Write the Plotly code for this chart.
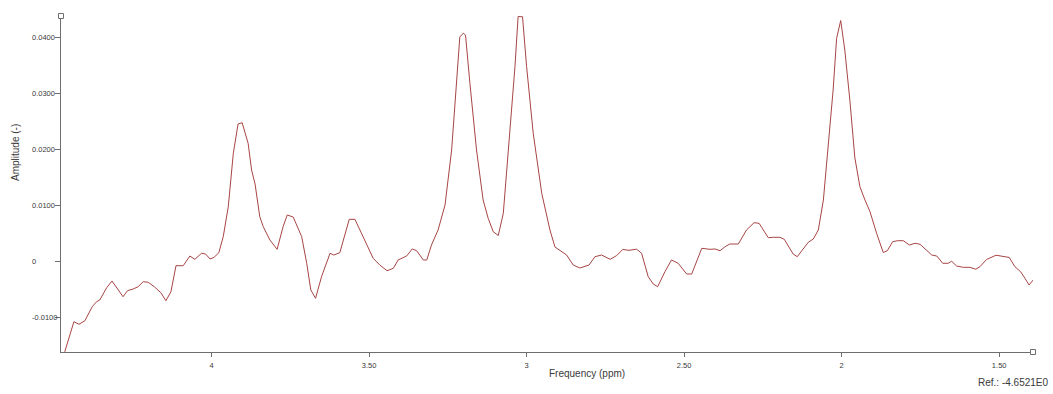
import plotly.graph_objects as go

# Frequency axis (ppm) and amplitude values
ppm = [4.475, 4.466, 4.437, 4.421, 4.402, 4.379, 4.365, 4.355, 4.333, 4.316,
       4.296, 4.281, 4.267, 4.249, 4.233, 4.217, 4.201, 4.182, 4.161, 4.145,
       4.129, 4.113, 4.090, 4.069, 4.053, 4.032, 4.019, 4.005, 3.992, 3.977,
       3.963, 3.947, 3.931, 3.916, 3.903, 3.884, 3.873, 3.862, 3.847, 3.836,
       3.815, 3.792, 3.773, 3.760, 3.741, 3.714, 3.698, 3.685, 3.670, 3.651,
       3.624, 3.612, 3.593, 3.577, 3.563, 3.545, 3.513, 3.487, 3.466, 3.443,
       3.423, 3.408, 3.381, 3.363, 3.349, 3.328, 3.317, 3.302, 3.281, 3.259,
       3.238, 3.222, 3.212, 3.201, 3.194, 3.180, 3.159, 3.138, 3.122, 3.106,
       3.090, 3.074, 3.053, 3.037, 3.027, 3.013, 3.000, 2.979, 2.952, 2.926,
       2.910, 2.900, 2.873, 2.852, 2.831, 2.802, 2.783, 2.762, 2.735, 2.714,
       2.695, 2.675, 2.651, 2.635, 2.614, 2.598, 2.584, 2.561, 2.540, 2.519,
       2.492, 2.476, 2.444, 2.418, 2.402, 2.386, 2.370, 2.355, 2.328, 2.302,
       2.278, 2.262, 2.233, 2.217, 2.196, 2.182, 2.154, 2.141, 2.122, 2.106,
       2.090, 2.074, 2.058, 2.043, 2.027, 2.016, 2.003, 1.990, 1.974, 1.958,
       1.942, 1.926, 1.910, 1.889, 1.868, 1.855, 1.838, 1.822, 1.804, 1.785,
       1.767, 1.751, 1.736, 1.714, 1.698, 1.679, 1.662, 1.651, 1.635, 1.614,
       1.593, 1.574, 1.561, 1.540, 1.510, 1.487, 1.468, 1.450, 1.432, 1.418,
       1.405, 1.392]

amplitude = [-0.01762, -0.01614, -0.01077, -0.01123, -0.01059, -0.00809, -0.00719, -0.00689, -0.00469, -0.00349,
             -0.00510, -0.00630, -0.00522, -0.00492, -0.00451, -0.00361, -0.00372, -0.00451, -0.00558, -0.00701,
             -0.00540, -0.00075, -0.00075, 0.00098, 0.00039, 0.00147, 0.00134, 0.00045, 0.00075, 0.00157,
             0.00444, 0.00980, 0.01936, 0.02460, 0.02483, 0.02114, 0.01637, 0.01386, 0.00801, 0.00623,
             0.00385, 0.00218, 0.00623, 0.00832, 0.00796, 0.00444, -0.00032, -0.00510, -0.00658, -0.00272,
             0.00147, 0.00116, 0.00157, 0.00504, 0.00755, 0.00755, 0.00385, 0.00057, -0.00063, -0.00165,
             -0.00122, 0.00027, 0.00098, 0.00224, 0.00193, 0.00027, 0.00027, 0.00295, 0.00564, 0.01011,
             0.01995, 0.03188, 0.04021, 0.04082, 0.04052, 0.03188, 0.01995, 0.01100, 0.00773, 0.00533,
             0.00465, 0.00862, 0.02293, 0.03485, 0.04383, 0.04379, 0.03485, 0.02293, 0.01220, 0.00564,
             0.00259, 0.00224, 0.00116, -0.00063, -0.00116, -0.00063, 0.00086, 0.00116, 0.00039, 0.00107,
             0.00215, 0.00200, 0.00220, 0.00147, -0.00272, -0.00403, -0.00451, -0.00182, 0.00027, -0.00032,
             -0.00224, -0.00224, 0.00236, 0.00218, 0.00224, 0.00193, 0.00265, 0.00313, 0.00313, 0.00564,
             0.00694, 0.00683, 0.00426, 0.00433, 0.00433, 0.00397, 0.00134, 0.00086, 0.00236, 0.00343,
             0.00403, 0.00564, 0.01100, 0.01995, 0.03068, 0.03993, 0.04311, 0.03784, 0.02889, 0.01852,
             0.01338, 0.01100, 0.00891, 0.00504, 0.00161, 0.00193, 0.00354, 0.00372, 0.00372, 0.00295,
             0.00326, 0.00308, 0.00236, 0.00116, 0.00098, -0.00032, -0.00032, 0.00005, -0.00081, -0.00104,
             -0.00104, -0.00138, -0.00093, 0.00036, 0.00113, 0.00086, 0.00072, -0.00093, -0.00182, -0.00301,
             -0.00420, -0.00331]

x_tick_vals = [4, 3.5, 3, 2.5, 2, 1.5]
x_tick_text = ["4", "3.50", "3", "2.50", "2", "1.50"]
y_tick_vals = [0.04, 0.03, 0.02, 0.01, 0, -0.01]
y_tick_text = ["0.0400", "0.0300", "0.0200", "0.0100", "0", "-0.0100"]

x_range = [4.478, 1.3926]
y_range = [-0.01619, 0.04392]

AXIS_COLOR = "#6e6e6e"
TEXT_COLOR = "#3a3a3a"
TICK_FONT = dict(family="Liberation Sans, Arial, sans-serif", size=7.5, color=TEXT_COLOR)

fig = go.Figure()
fig.add_trace(go.Scatter(
    x=ppm, y=amplitude, mode="lines",
    line=dict(color="#a84444", width=1),
    showlegend=False, hoverinfo="skip",
))

annotations = []
for v, t in zip(y_tick_vals, y_tick_text):
    annotations.append(dict(
        x=0, xref="paper", y=v, yref="y", text=t, showarrow=False,
        xanchor="left", yanchor="middle", xshift=-31, font=TICK_FONT,
    ))
annotations.append(dict(
    x=0, xref="paper", y=1, yref="paper", text="Amplitude (-)", textangle=-90,
    showarrow=False, xanchor="center", yanchor="middle", xshift=-46, yshift=-137,
    font=dict(family="Liberation Sans, Arial, sans-serif", size=10, color=TEXT_COLOR),
))
annotations.append(dict(
    x=0.5, xref="paper", y=0, yref="paper", text="Frequency (ppm)",
    showarrow=False, xanchor="center", yanchor="middle", xshift=40, yshift=-21,
    font=dict(family="Liberation Sans, Arial, sans-serif", size=10, color=TEXT_COLOR),
))
annotations.append(dict(
    x=1, xref="paper", y=0, yref="paper", text="Ref.: -4.6521E0",
    showarrow=False, xanchor="right", yanchor="middle", xshift=17, yshift=-30,
    font=dict(family="Liberation Sans, Arial, sans-serif", size=10, color=TEXT_COLOR),
))

shapes = [
    dict(type="rect", xref="paper", yref="paper", xsizemode="pixel", ysizemode="pixel",
         xanchor=0, yanchor=1, x0=-2.5, x1=2.5, y0=-2.5, y1=2.5,
         line=dict(color=AXIS_COLOR, width=1), fillcolor="white", layer="above"),
    dict(type="rect", xref="paper", yref="paper", xsizemode="pixel", ysizemode="pixel",
         xanchor=1, yanchor=0, x0=-2.5, x1=2.5, y0=-2.5, y1=2.5,
         line=dict(color=AXIS_COLOR, width=1), fillcolor="white", layer="above"),
]

fig.update_layout(
    width=1053, height=394,
    margin=dict(l=61, r=20, t=16, b=42),
    paper_bgcolor="white", plot_bgcolor="white",
    annotations=annotations, shapes=shapes,
    xaxis=dict(
        range=x_range, tickvals=x_tick_vals, ticktext=x_tick_text,
        showgrid=False, zeroline=False, showline=True, linecolor=AXIS_COLOR, linewidth=1,
        ticks="outside", ticklen=4, tickcolor=AXIS_COLOR, tickwidth=1,
        tickfont=TICK_FONT, ticklabelstandoff=2,
    ),
    yaxis=dict(
        range=y_range, tickvals=y_tick_vals,
        showgrid=False, zeroline=False, showline=True, linecolor=AXIS_COLOR, linewidth=1,
        ticks="outside", ticklen=5, tickcolor=AXIS_COLOR, tickwidth=1,
        showticklabels=False,
    ),
)

fig.write_html("out.html")
